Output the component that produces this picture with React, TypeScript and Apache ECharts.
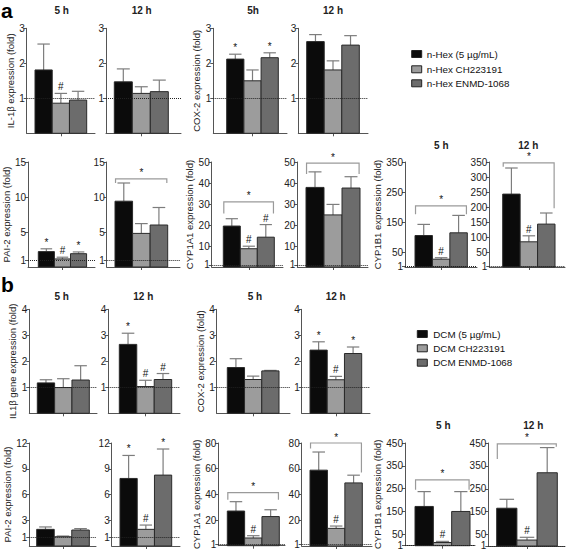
import React, { useEffect, useRef } from 'react';
import * as echarts from 'echarts';

// ---------- legend / labels ----------
const GROUP_COLORS = ['#0b0b0b', '#9c9c9c', '#6c6c6c'];
const LEGEND_A = ['n-Hex (5 µg/mL)', 'n-Hex CH223191', 'n-Hex ENMD-1068'];
const LEGEND_B = ['DCM (5 µg/mL)', 'DCM CH223191', 'DCM ENMD-1068'];
const PANEL_LETTERS = ['a', 'b'];
const TITLES_A_TOP = ['5 h', '12 h', '5h', '12 h'];
const TITLES_A_BOTTOM = ['5 h', '12 h'];
const TITLES_B_TOP = ['5 h', '12 h', '5 h', '12 h'];
const TITLES_B_BOTTOM = ['5 h', '12 h'];

// ---------- tick labels ----------
const TICKS_3 = [1, 2, 3];
const TICKS_4 = [1, 2, 3, 4];
const TICKS_15 = [1, 5, 10, 15];
const TICKS_50 = [1, 10, 20, 30, 40, 50];
const TICKS_350A = [1, 50, 150, 250, 350];
const TICKS_350B = [1, 50, 100, 150, 200, 250, 300, 350];
const TICKS_12 = [1, 3, 6, 9, 12];
const TICKS_80 = [1, 20, 40, 60, 80];
const TICKS_450 = [1, 50, 150, 250, 350, 450];

// ---------- panel a (n-Hex) ----------
const A_IL1B_5H = [1.81, 0.86, 0.95];
const A_IL1B_5H_ERR = [0.74, 0.28, 0.25];
const A_IL1B_5H_MARK = ['', '#', ''];
const A_IL1B_12H = [1.47, 1.14, 1.19];
const A_IL1B_12H_ERR = [0.37, 0.19, 0.33];
const A_IL1B_12H_MARK = ['', '', ''];
const A_COX2_5H = [2.12, 1.5, 2.16];
const A_COX2_5H_ERR = [0.14, 0.31, 0.14];
const A_COX2_5H_MARK = ['*', '', '*'];
const A_COX2_12H = [2.62, 1.81, 2.52];
const A_COX2_12H_ERR = [0.2, 0.26, 0.27];
const A_COX2_12H_MARK = ['', '', ''];
const A_PAI2_5H = [2.2, 1.15, 1.9];
const A_PAI2_5H_ERR = [0.4, 0.25, 0.25];
const A_PAI2_5H_MARK = ['*', '#', '*'];
const A_PAI2_12H = [9.4, 4.8, 6.0];
const A_PAI2_12H_ERR = [2.6, 1.4, 2.5];
const A_PAI2_12H_MARK = ['', '', ''];
const A_PAI2_12H_BRACKET = [12.6, 12.0, 12.0];
const A_CYP1A1_5H = [19.5, 8.7, 14.2];
const A_CYP1A1_5H_ERR = [3.5, 1.2, 6.0];
const A_CYP1A1_5H_MARK = ['', '#', '#'];
const A_CYP1A1_5H_BRACKET = [31, 25.5, 25.5];
const A_CYP1A1_12H = [37.9, 24.8, 37.6];
const A_CYP1A1_12H_ERR = [7.4, 5.0, 5.4];
const A_CYP1A1_12H_MARK = ['', '', ''];
const A_CYP1A1_12H_BRACKET = [49.5, 44.3, 44.3];
const A_CYP1B1_5H = [105, 26, 114];
const A_CYP1B1_5H_ERR = [37, 5, 58];
const A_CYP1B1_5H_MARK = ['', '#', ''];
const A_CYP1B1_5H_BRACKET = [204, 176, 176];
const A_CYP1B1_12H = [243, 84, 143];
const A_CYP1B1_12H_ERR = [87, 20, 37];
const A_CYP1B1_12H_MARK = ['', '#', ''];
const A_CYP1B1_12H_BRACKET = [347, 334, 196];

// ---------- panel b (DCM) ----------
const B_IL1B_5H = [1.17, 0.99, 1.28];
const B_IL1B_5H_ERR = [0.12, 0.34, 0.55];
const B_IL1B_5H_MARK = ['', '', ''];
const B_IL1B_12H = [2.65, 1.03, 1.3];
const B_IL1B_12H_ERR = [0.43, 0.24, 0.23];
const B_IL1B_12H_MARK = ['*', '#', '#'];
const B_COX2_5H = [1.76, 1.3, 1.63];
const B_COX2_5H_ERR = [0.34, 0.13, 0.02];
const B_COX2_5H_MARK = ['', '', ''];
const B_COX2_12H = [2.43, 1.29, 2.3];
const B_COX2_12H_ERR = [0.32, 0.13, 0.25];
const B_COX2_12H_MARK = ['*', '#', '*'];
const B_PAI2_5H = [1.94, 1.08, 1.86];
const B_PAI2_5H_ERR = [0.28, 0.08, 0.17];
const B_PAI2_5H_MARK = ['', '', ''];
const B_PAI2_12H = [7.87, 1.94, 8.26];
const B_PAI2_12H_ERR = [2.68, 0.5, 3.04];
const B_PAI2_12H_MARK = ['*', '#', '*'];
const B_CYP1A1_5H = [27, 6, 22.7];
const B_CYP1A1_5H_ERR = [7.3, 1.8, 5.3];
const B_CYP1A1_5H_MARK = ['', '#', ''];
const B_CYP1A1_5H_BRACKET = [41.3, 35.7, 35.7];
const B_CYP1A1_12H = [58.9, 13.7, 49];
const B_CYP1A1_12H_ERR = [14.1, 1.8, 6];
const B_CYP1A1_12H_MARK = ['', '#', ''];
const B_CYP1A1_12H_BRACKET = [80, 75.7, 57];
const B_CYP1B1_5H = [172, 14, 150];
const B_CYP1B1_5H_ERR = [65, 5, 87];
const B_CYP1B1_5H_MARK = ['', '#', ''];
const B_CYP1B1_5H_BRACKET = [288, 245, 245];
const B_CYP1B1_12H = [165, 26, 320];
const B_CYP1B1_12H_ERR = [39, 12, 110];
const B_CYP1B1_12H_MARK = ['', '#', ''];
const B_CYP1B1_12H_BRACKET = [446, 380, 434];

// ---------- layout (pixels) ----------
const FONT = 'Liberation Sans, Arial, sans-serif';
const AXIS = '#555';
const ERR = '#7d7d7d';
const MARK_COLOR = '#111';
const ROW_A1 = [28.3, 133.3];
const ROW_A2 = [162, 267];
const ROW_B1 = [309.3, 413.3];
const ROW_B2 = [443, 546];

type Panel = {
  means: number[]; errs: number[]; marks: string[]; bracket: number[] | null;
  max: number; ticks: number[]; name: string; nameCx: number;
  gx: number; gEnd: number; row: number[]; bs: number; be: number;
};

const PANELS: Panel[] = [
  { means: A_IL1B_5H, errs: A_IL1B_5H_ERR, marks: A_IL1B_5H_MARK, bracket: null, max: 3, ticks: TICKS_3, name: 'IL-1β expression (fold)', nameCx: 12, gx: 26.7, gEnd: 95, row: ROW_A1, bs: 35, be: 86.7 },
  { means: A_IL1B_12H, errs: A_IL1B_12H_ERR, marks: A_IL1B_12H_MARK, bracket: null, max: 3, ticks: TICKS_3, name: '', nameCx: 0, gx: 106, gEnd: 181, row: ROW_A1, bs: 114.3, be: 168.3 },
  { means: A_COX2_5H, errs: A_COX2_5H_ERR, marks: A_COX2_5H_MARK, bracket: null, max: 3, ticks: TICKS_3, name: 'COX-2 expression (fold)', nameCx: 200, gx: 213.3, gEnd: 287, row: ROW_A1, bs: 226.7, be: 278.3 },
  { means: A_COX2_12H, errs: A_COX2_12H_ERR, marks: A_COX2_12H_MARK, bracket: null, max: 3, ticks: TICKS_3, name: '', nameCx: 0, gx: 298.3, gEnd: 368, row: ROW_A1, bs: 306.7, be: 359.3 },
  { means: A_PAI2_5H, errs: A_PAI2_5H_ERR, marks: A_PAI2_5H_MARK, bracket: null, max: 15, ticks: TICKS_15, name: 'PAI-2 expression (fold)', nameCx: 8, gx: 23.3, gEnd: 95, row: ROW_A2, bs: 34.3, be: 86 },
  { means: A_PAI2_12H, errs: A_PAI2_12H_ERR, marks: A_PAI2_12H_MARK, bracket: A_PAI2_12H_BRACKET, max: 15, ticks: TICKS_15, name: '', nameCx: 0, gx: 106.7, gEnd: 180, row: ROW_A2, bs: 115, be: 167.7 },
  { means: A_CYP1A1_5H, errs: A_CYP1A1_5H_ERR, marks: A_CYP1A1_5H_MARK, bracket: A_CYP1A1_5H_BRACKET, max: 50, ticks: TICKS_50, name: 'CYP1A1 expression (fold)', nameCx: 195, gx: 211.7, gEnd: 283, row: ROW_A2, bs: 223.3, be: 274.3 },
  { means: A_CYP1A1_12H, errs: A_CYP1A1_12H_ERR, marks: A_CYP1A1_12H_MARK, bracket: A_CYP1A1_12H_BRACKET, max: 50, ticks: TICKS_50, name: '', nameCx: 0, gx: 297.3, gEnd: 368, row: ROW_A2, bs: 306, be: 360 },
  { means: A_CYP1B1_5H, errs: A_CYP1B1_5H_ERR, marks: A_CYP1B1_5H_MARK, bracket: A_CYP1B1_5H_BRACKET, max: 350, ticks: TICKS_350A, name: 'CYP1B1 expression (fold)', nameCx: 392, gx: 405, gEnd: 477, row: ROW_A2, bs: 415, be: 467.3 },
  { means: A_CYP1B1_12H, errs: A_CYP1B1_12H_ERR, marks: A_CYP1B1_12H_MARK, bracket: A_CYP1B1_12H_BRACKET, max: 350, ticks: TICKS_350B, name: '', nameCx: 0, gx: 489.3, gEnd: 565, row: ROW_A2, bs: 502.7, be: 555 },
  { means: B_IL1B_5H, errs: B_IL1B_5H_ERR, marks: B_IL1B_5H_MARK, bracket: null, max: 4, ticks: TICKS_4, name: 'IL1β gene expression (fold)', nameCx: 12, gx: 29.3, gEnd: 97, row: ROW_B1, bs: 37.3, be: 89.3 },
  { means: B_IL1B_12H, errs: B_IL1B_12H_ERR, marks: B_IL1B_12H_MARK, bracket: null, max: 4, ticks: TICKS_4, name: '', nameCx: 0, gx: 108.3, gEnd: 180, row: ROW_B1, bs: 119.3, be: 171.7 },
  { means: B_COX2_5H, errs: B_COX2_5H_ERR, marks: B_COX2_5H_MARK, bracket: null, max: 4, ticks: TICKS_4, name: 'COX-2 expression (fold)', nameCx: 203, gx: 216.7, gEnd: 290, row: ROW_B1, bs: 227.3, be: 279 },
  { means: B_COX2_12H, errs: B_COX2_12H_ERR, marks: B_COX2_12H_MARK, bracket: null, max: 4, ticks: TICKS_4, name: '', nameCx: 0, gx: 301.7, gEnd: 370, row: ROW_B1, bs: 310, be: 361.7 },
  { means: B_PAI2_5H, errs: B_PAI2_5H_ERR, marks: B_PAI2_5H_MARK, bracket: null, max: 12, ticks: TICKS_12, name: 'PAI-2 expression (fold)', nameCx: 9, gx: 29.3, gEnd: 96, row: ROW_B2, bs: 36.7, be: 89.3 },
  { means: B_PAI2_12H, errs: B_PAI2_12H_ERR, marks: B_PAI2_12H_MARK, bracket: null, max: 12, ticks: TICKS_12, name: '', nameCx: 0, gx: 111.7, gEnd: 180, row: ROW_B2, bs: 120, be: 171.7 },
  { means: B_CYP1A1_5H, errs: B_CYP1A1_5H_ERR, marks: B_CYP1A1_5H_MARK, bracket: B_CYP1A1_5H_BRACKET, max: 80, ticks: TICKS_80, name: 'CYP1A1 expression (fold)', nameCx: 197, gx: 218.3, gEnd: 285, row: ROW_B2, bs: 227.3, be: 279.3 },
  { means: B_CYP1A1_12H, errs: B_CYP1A1_12H_ERR, marks: B_CYP1A1_12H_MARK, bracket: B_CYP1A1_12H_BRACKET, max: 80, ticks: TICKS_80, name: '', nameCx: 0, gx: 301.7, gEnd: 372, row: ROW_B2, bs: 310, be: 362.3 },
  { means: B_CYP1B1_5H, errs: B_CYP1B1_5H_ERR, marks: B_CYP1B1_5H_MARK, bracket: B_CYP1B1_5H_BRACKET, max: 450, ticks: TICKS_450, name: 'CYP1B1 expression (fold)', nameCx: 389, gx: 405, gEnd: 475, row: ROW_B2, bs: 415, be: 470 },
  { means: B_CYP1B1_12H, errs: B_CYP1B1_12H_ERR, marks: B_CYP1B1_12H_MARK, bracket: B_CYP1B1_12H_BRACKET, max: 450, ticks: TICKS_450, name: '', nameCx: 0, gx: 488.3, gEnd: 565, row: ROW_B2, bs: 496.7, be: 557.3 },
];

const TITLE_POS_A_TOP = [[61.7, 10], [141.7, 10], [253, 10], [333, 10]];
const TITLE_POS_A_BOTTOM = [[441.3, 145], [528.3, 145]];
const TITLE_POS_B_TOP = [[61.7, 296], [143.3, 296], [255, 296], [335.7, 296]];
const TITLE_POS_B_BOTTOM = [[443.3, 425], [533.3, 425]];

function markText(text: string, x: number, y: number) {
  return {
    type: 'text',
    x, y,
    style: {
      legacy: false,
      text, x: 0, y: 0, align: 'center', verticalAlign: 'bottom',
      fontSize: 10, fontFamily: FONT, fill: MARK_COLOR, textFill: MARK_COLOR,
      stroke: 'none', lineWidth: 0,
    },
  };
}

function barRenderer(p: Panel) {
  return (params: any, api: any) => {
    const i = api.value(0);
    const v = api.value(1);
    const e = api.value(2);
    const tl = api.coord([i - 0.5, v]);
    const br = api.coord([i + 0.5, 0]);
    const top = api.coord([i, v + e]);
    const cx = (tl[0] + br[0]) / 2;
    const w = br[0] - tl[0];
    const cap = w * 0.36;
    const children: any[] = [
      { type: 'line', shape: { x1: cx, y1: tl[1], x2: cx, y2: top[1] }, style: { stroke: ERR, lineWidth: 1.2 } },
      { type: 'line', shape: { x1: cx - cap, y1: top[1], x2: cx + cap, y2: top[1] }, style: { stroke: ERR, lineWidth: 1.2 } },
      { type: 'rect', shape: { x: tl[0], y: tl[1], width: w, height: br[1] - tl[1] }, style: { fill: GROUP_COLORS[i], stroke: '#2a2a2a', lineWidth: 1 } },
    ];
    const m = p.marks[params.dataIndex];
    if (m) children.push(markText(m, cx, top[1] - 1.5));
    return { type: 'group', children };
  };
}

function bracketRenderer(params: any, api: any) {
  const y = api.value(0);
  const lb = api.value(1);
  const rb = api.value(2);
  const a = api.coord([-0.47, lb]);
  const b = api.coord([-0.47, y]);
  const c = api.coord([2.45, y]);
  const d = api.coord([2.45, rb]);
  const mid = api.coord([1, y]);
  return {
    type: 'group',
    children: [
      { type: 'polyline', shape: { points: [a, b, c, d] }, style: { stroke: '#9a9a9a', lineWidth: 1.2, fill: 'none' } },
      markText('*', mid[0], b[1] - 1),
    ],
  };
}

function buildOption() {
  const grid: any[] = [];
  const xAxis: any[] = [];
  const yAxis: any[] = [];
  const series: any[] = [];
  PANELS.forEach((p, k) => {
    const unit = (p.be - p.bs) / 3;
    const xMin = -0.5 - (p.bs - p.gx) / unit;
    const xMax = 2.5 + (p.gEnd - p.be) / unit;
    grid.push({ left: p.gx, top: p.row[0], width: p.gEnd - p.gx, height: p.row[1] - p.row[0] });
    xAxis.push({
      gridIndex: k, type: 'value', min: xMin, max: xMax,
      axisLine: { show: true, onZero: false, lineStyle: { color: AXIS, width: 1 } },
      axisTick: { show: true, customValues: [1], length: 3, lineStyle: { color: AXIS } },
      axisLabel: { show: false }, splitLine: { show: false },
    });
    yAxis.push({
      gridIndex: k, type: 'value', min: 0, max: p.max,
      axisLine: { show: true, onZero: false, lineStyle: { color: AXIS, width: 1 } },
      axisTick: { show: true, customValues: p.ticks, length: 3, lineStyle: { color: AXIS } },
      axisLabel: { show: true, customValues: p.ticks, fontSize: 10, color: '#222', margin: 2, fontFamily: FONT },
      splitLine: { show: false },
      name: p.name, nameLocation: 'middle', nameRotate: 90,
      nameGap: Math.max(0, p.gx - p.nameCx - 6),
      nameTextStyle: { fontSize: 9.5, color: '#222', fontFamily: FONT },
    });
    series.push({
      type: 'custom', xAxisIndex: k, yAxisIndex: k,
      itemStyle: { color: MARK_COLOR },
      data: p.means.map((m, i) => [i, m, p.errs[i]]),
      renderItem: barRenderer(p),
      markLine: {
        silent: true, symbol: 'none', label: { show: false },
        lineStyle: { type: 'dotted', color: '#222', width: 1 },
        data: [{ yAxis: 1 }],
      },
      z: 3,
    });
    if (p.bracket) {
      series.push({
        type: 'custom', xAxisIndex: k, yAxisIndex: k,
        itemStyle: { color: MARK_COLOR },
        data: [p.bracket], renderItem: bracketRenderer, z: 2,
      });
    }
  });

  const graphic: any[] = [];
  const addTitles = (texts: string[], pos: number[][]) => texts.forEach((t, i) => graphic.push({
    type: 'text', x: pos[i][0], y: pos[i][1],
    style: { text: t, align: 'center', verticalAlign: 'middle', fontSize: 10, fontWeight: 'bold', fontFamily: FONT, fill: '#222' },
  }));
  addTitles(TITLES_A_TOP, TITLE_POS_A_TOP);
  addTitles(TITLES_A_BOTTOM, TITLE_POS_A_BOTTOM);
  addTitles(TITLES_B_TOP, TITLE_POS_B_TOP);
  addTitles(TITLES_B_BOTTOM, TITLE_POS_B_BOTTOM);

  graphic.push({ type: 'text', x: 1, y: 0, style: { text: PANEL_LETTERS[0], verticalAlign: 'top', fontSize: 21, fontWeight: 'bold', fontFamily: FONT, fill: '#000' } });
  graphic.push({ type: 'text', x: 1, y: 274, style: { text: PANEL_LETTERS[1], verticalAlign: 'top', fontSize: 21, fontWeight: 'bold', fontFamily: FONT, fill: '#000' } });

  const addLegend = (labels: string[], x: number, ys: number[], tx: number) => labels.forEach((t, i) => {
    graphic.push({ type: 'rect', shape: { x, y: ys[i] - 3.5, width: 10, height: 7 }, style: { fill: GROUP_COLORS[i], stroke: '#222', lineWidth: 1 } });
    graphic.push({ type: 'text', x: tx, y: ys[i], style: { text: t, verticalAlign: 'middle', fontSize: 9.8, fontFamily: FONT, fill: '#111' } });
  });
  addLegend(LEGEND_A, 411.7, [54, 69.3, 83.3], 426.7);
  addLegend(LEGEND_B, 417.3, [334, 348.3, 362.7], 433.3);

  return { animation: false, backgroundColor: '#fff', grid, xAxis, yAxis, series, graphic };
}

export default function App() {
  const ref = useRef<HTMLDivElement>(null);
  useEffect(() => {
    document.body.style.margin = '0';
    if (!ref.current) return;
    const chart = echarts.init(ref.current, null, { renderer: 'svg' });
    chart.setOption(buildOption() as any);
    return () => chart.dispose();
  }, []);
  return <div ref={ref} style={{ width: 567, height: 551 }} />;
}
